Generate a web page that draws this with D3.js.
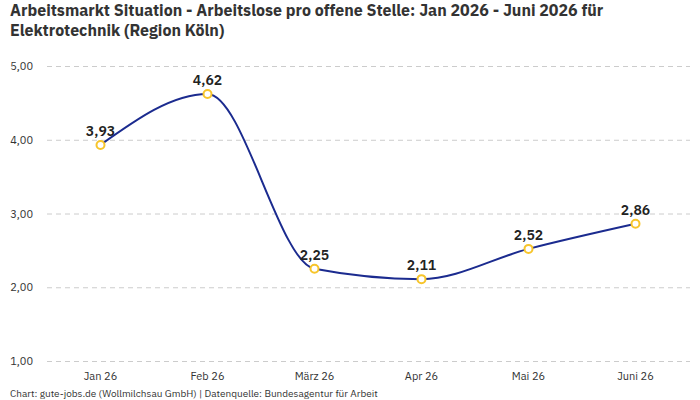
<!DOCTYPE html>
<html>
<head>
<meta charset="utf-8">
<style>
  body { margin: 0; background: #fff; }
  svg { display: block; font-family: "IBM Plex Sans", Roboto, "Noto Sans", sans-serif; }
</style>
</head>
<body>
<div id="chart"></div>
<script src="https://d3js.org/d3.v7.min.js"></script>
<script>
var months = ["Jan 26", "Feb 26", "März 26", "Apr 26", "Mai 26", "Juni 26"];
var values = [3.93, 4.62, 2.25, 2.11, 2.52, 2.86];
var yTicks = [1, 2, 3, 4, 5];
var titleLines = ["Arbeitsmarkt Situation - Arbeitslose pro offene Stelle: Jan 2026 - Juni 2026 für",
                  "Elektrotechnik (Region Köln)"];

var W = 700, H = 400;
var svg = d3.select("#chart").append("svg")
    .attr("width", W)
    .attr("height", H);

var fmt = function(v) { return v.toFixed(2).replace(".", ","); };

var x = d3.scalePoint().domain(months).range([47, 689]).padding(0.5);
var y = d3.scaleLinear().domain([1, 5]).range([361, 66]);

// title, one text per line
svg.append("g").selectAll("text")
    .data(titleLines)
    .enter()
    .append("text")
    .attr("x", 10)
    .attr("y", function(d, i) { return 16 + i * 19.5; })
    .attr("font-size", 16)
    .attr("font-weight", "bold")
    .attr("fill", "#333")
    .text(function(d) { return d; });

// grid
svg.append("g").selectAll("line")
    .data(yTicks)
    .enter()
    .append("line")
    .attr("x1", 47)
    .attr("x2", 690)
    .attr("y1", function(d) { return y(d) + 0.5; })
    .attr("y2", function(d) { return y(d) + 0.5; })
    .attr("stroke", "#ccc")
    .attr("stroke-dasharray", "5,4");

// y labels
svg.append("g").selectAll("text")
    .data(yTicks)
    .enter()
    .append("text")
    .attr("x", 33)
    .attr("y", function(d) { return y(d) + 4; })
    .attr("text-anchor", "end")
    .attr("font-size", 11)
    .attr("fill", "#333")
    .text(fmt);

// x labels
svg.append("g").selectAll("text")
    .data(months)
    .enter()
    .append("text")
    .attr("x", function(d) { return x(d); })
    .attr("y", 380)
    .attr("text-anchor", "middle")
    .attr("font-size", 11)
    .attr("fill", "#333")
    .text(function(d) { return d; });

// line
var line = d3.line()
    .x(function(d, i) { return x(months[i]); })
    .y(function(d) { return y(d); })
    .curve(d3.curveMonotoneX);

svg.append("path")
    .datum(values)
    .attr("d", line)
    .attr("fill", "none")
    .attr("stroke", "#1b2b8f")
    .attr("stroke-width", 2);

svg.append("g").selectAll("circle")
    .data(values)
    .enter()
    .append("circle")
    .attr("cx", function(d, i) { return x(months[i]); })
    .attr("cy", function(d) { return y(d); })
    .attr("r", 4)
    .attr("fill", "#fff")
    .attr("stroke", "#f7c52b")
    .attr("stroke-width", 2);

svg.append("g").selectAll("text")
    .data(values)
    .enter()
    .append("text")
    .attr("x", function(d, i) { return x(months[i]); })
    .attr("y", function(d) { return y(d) - 9; })
    .attr("text-anchor", "middle")
    .attr("font-size", 14)
    .attr("font-weight", 600)
    .attr("fill", "#222")
    .text(fmt);

// footer
svg.append("text")
    .attr("x", 10)
    .attr("y", 397)
    .attr("font-size", 10)
    .attr("fill", "#333")
    .text("Chart: gute-jobs.de (Wollmilchsau GmbH) | Datenquelle: Bundesagentur für Arbeit");
</script>
</body>
</html>
